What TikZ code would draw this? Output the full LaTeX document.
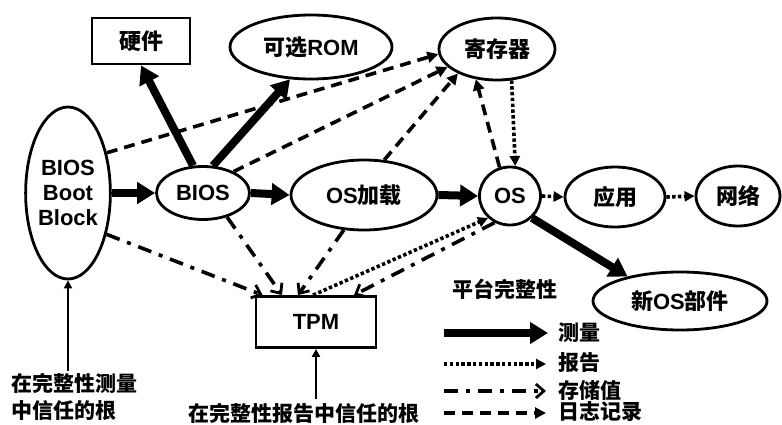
\documentclass[tikz,border=0pt]{standalone}
\usepackage{fontspec}
\setmainfont{Liberation Sans}
\newfontfamily\cjk{Noto Sans CJK SC}
\usetikzlibrary{shapes.geometric,arrows.meta}

\tikzset{
  every node/.style={font=\bfseries\fontsize{22}{25}\selectfont},
  ell/.style={draw, ellipse, line width=2.8pt, inner sep=0pt},
  box/.style={draw, rectangle, line width=2.8pt, inner sep=0pt},
  meas/.style={line width=8pt, -{Triangle[length=18pt,width=21pt]}},
  rep/.style={line width=3.6pt, dash pattern=on 3.4pt off 2.4pt, -{Triangle[length=10pt,width=10pt]}},
  store/.style={line width=3.6pt, dash pattern=on 14pt off 8pt on 4pt off 8pt, -{Straight Barb[length=8pt,width=14pt,line width=2.8pt]}},
  logg/.style={line width=3.6pt, dash pattern=on 11pt off 7pt, -{Triangle[length=11pt,width=11pt]}},
  root/.style={line width=2.4pt, -{Triangle[length=8pt,width=8pt]}},
  captext/.style={font=\bfseries\fontsize{21}{27}\selectfont},
  lbl/.style={anchor=west, inner sep=0pt, font=\bfseries\fontsize{21}{25}\selectfont}
}

\begin{document}
\begin{tikzpicture}[x=1pt,y=-1pt]
\useasboundingbox (0,0) rectangle (782,425);

% components
\node[box, minimum width=98pt, minimum height=46pt] (hw) at (141,41) {\cjk 硬件};
\node[ell, minimum width=162pt, minimum height=64pt] (rom) at (311,47) {{\cjk 可选}ROM};
\node[ell, minimum width=116pt, minimum height=62pt] (reg) at (497,49) {\cjk 寄存器};
\node[ell, minimum width=74pt, minimum height=172pt, align=center] (bbb) at (68,193) {BIOS\\Boot\\Block};
\node[ell, minimum width=93pt, minimum height=53pt] (bios) at (203,193) {BIOS};
\node[ell, minimum width=146pt, minimum height=70pt] (osl) at (364,195) {OS{\cjk 加载}};
\node[ell, minimum width=61pt, minimum height=58pt] (os) at (510,196) {OS};
\node[ell, minimum width=100pt, minimum height=60pt] (app) at (615,197) {\cjk 应用};
\node[ell, minimum width=84pt, minimum height=60pt] (net) at (738,196) {\cjk 网络};
\node[ell, minimum width=174pt, minimum height=58pt] (newos) at (680,301) {{\cjk 新}OS{\cjk 部件}};
\node[box, minimum width=120pt, minimum height=51pt] (tpm) at (316,322) {TPM};

% captions
\node[captext] (pi) at (505,289) {\cjk 平台完整性};
\node[captext, anchor=west, align=left, inner sep=2pt] (rm) at (9,397) {\cjk 在完整性测量\\\cjk 中信任的根};
\node[captext] (rr) at (304,413) {\cjk 在完整性报告中信任的根};

% measurement
\draw[meas] (bbb.east) -- (bios.west);
\draw[meas] (bios.110) -- (hw.south);
\draw[meas] (bios.70) -- (rom.237);
\draw[meas] (bios.east) -- (osl.west);
\draw[meas] (osl.east) -- (os.west);
\draw[meas] (os.-45) -- (newos.155);

% reporting
\draw[rep] (reg.-65) -- (os.80);
\draw[rep] (os.east) -- (app.west);
\draw[rep] (app.east) -- (net.west);
\draw[rep] ([xshift=-3pt]tpm.north) -- (os.-135);

% storing values
\draw[store] (bbb.-47) -- ([xshift=8pt]tpm.north west);
\draw[store] (bios.-45) -- ([xshift=-34pt]tpm.north);
\draw[store] (osl.-120) -- ([xshift=-18pt]tpm.north);
\draw[store] (os.-120) -- ([xshift=38pt]tpm.north);

% logging
\draw[logg] (bbb.46) -- (reg.185);
\draw[logg] (bios.35) -- (reg.200);
\draw[logg] (osl.60) -- (reg.212);
\draw[logg] (os.110) -- (reg.-125);

% roots of trust
\draw[root] (rm.north -| bbb.south) -- (bbb.south);
\draw[root] (rr.north -| tpm.south) -- (tpm.south);

% legend
\node[lbl] (lm) at (558,333) {\cjk 测量};
\node[lbl] (lr) at (558,363) {\cjk 报告};
\node[lbl] (ls) at (558,390) {\cjk 存储值};
\node[lbl] (ll) at (558,412) {\cjk 日志记录};
\coordinate (sm) at (444,333);
\coordinate (sr) at (444,364);
\coordinate (ss) at (444,391);
\coordinate (sl) at (444,413);
\draw[meas] (sm) -- ([xshift=-10pt]lm.west);
\draw[rep] (sr) -- ([xshift=-12pt]lr.west |- sr);
\draw[store] (ss) -- ([xshift=-12pt]ls.west |- ss);
\draw[logg] (sl) -- ([xshift=-12pt]ll.west |- sl);
\end{tikzpicture}
\end{document}
